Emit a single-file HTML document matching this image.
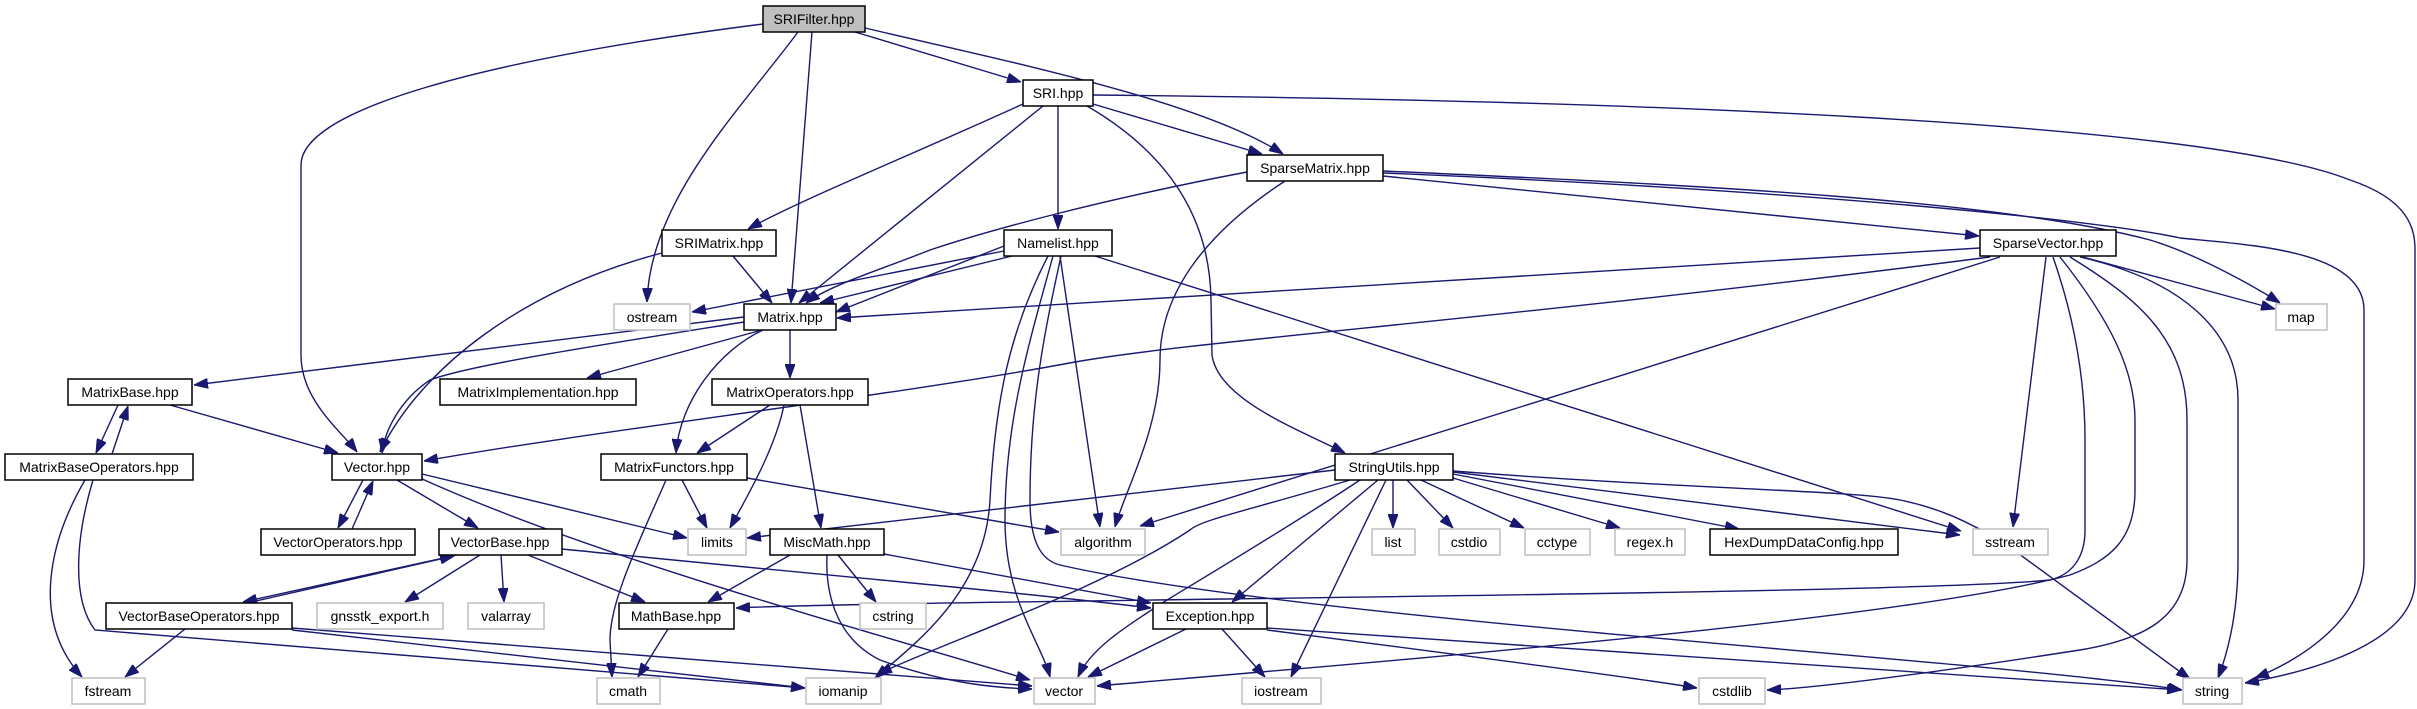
<!DOCTYPE html>
<html><head><meta charset="utf-8"><style>
html,body{margin:0;padding:0;background:#fff;}
svg{display:block;}
text{font-family:"Liberation Sans","DejaVu Sans",sans-serif;font-size:14px;fill:#000;text-anchor:middle;}
.e{fill:none;stroke:#191970;stroke-width:1.4;marker-end:url(#a);}
.n{fill:#fff;stroke:#000;stroke-width:1.5;}
.g{fill:#fff;stroke:#bfbfbf;stroke-width:1.5;}
</style></head><body>
<svg width="2417" height="709" viewBox="0 0 2417 709" xmlns="http://www.w3.org/2000/svg">
<defs><marker id="a" markerWidth="14" markerHeight="10" refX="14" refY="5" orient="auto" markerUnits="userSpaceOnUse"><path d="M0,0 L14,5 L0,10 z" fill="#191970" stroke="#191970"/></marker></defs>
<g>
<path class="e" d="M763,24 C480,60 301,110 301,165 L301,355 C301,400 340,430 357,452"/>
<path class="e" d="M798,32 C740,110 650,200 647,302"/>
<path class="e" d="M812,32 L791,303"/>
<path class="e" d="M855,32 L1021,82"/>
<path class="e" d="M865,28 C1000,60 1200,100 1283,154"/>
<path class="e" d="M1023,104 C900,160 800,200 748,229"/>
<path class="e" d="M1043,106 L799,303"/>
<path class="e" d="M1058,106 L1058,229"/>
<path class="e" d="M1087,106 C1180,160 1210,230 1211,300 L1212,355 C1218,400 1300,430 1345,453"/>
<path class="e" d="M1093,104 L1262,154"/>
<path class="e" d="M1093,95 C1600,100 2200,120 2350,180 C2410,200 2415,230 2415,250 L2415,580 C2415,640 2320,670 2245,683"/>
<path class="e" d="M1247,172 C1100,200 990,230 930,250 C880,270 830,285 806,303"/>
<path class="e" d="M1285,181 C1210,230 1160,290 1160,360 C1160,430 1125,490 1115,527"/>
<path class="e" d="M1383,176 L1979,236"/>
<path class="e" d="M1383,171 C1700,185 2000,200 2150,240 C2200,255 2260,290 2280,303"/>
<path class="e" d="M1383,173 C1800,190 2100,220 2180,238 C2250,245 2364,250 2364,310 L2364,560 C2364,620 2300,660 2255,678"/>
<path class="e" d="M662,253 C520,290 420,370 380,452"/>
<path class="e" d="M733,256 L772,303"/>
<path class="e" d="M1004,251 L692,312"/>
<path class="e" d="M1012,256 L820,303"/>
<path class="e" d="M1004,246 L836,312"/>
<path class="e" d="M1060,256 L1100,527"/>
<path class="e" d="M1048,256 C1010,330 995,400 990,500 C985,590 920,640 875,678"/>
<path class="e" d="M1053,256 C1030,340 1005,420 1005,520 C1005,600 1040,640 1050,677"/>
<path class="e" d="M1061,256 C1045,330 1030,400 1030,500 C1030,540 1040,560 1060,565 C1300,620 2000,660 2182,690"/>
<path class="e" d="M1095,256 L1961,531"/>
<path class="e" d="M1980,248 L837,318"/>
<path class="e" d="M1990,257 C1500,320 1200,340 1075,362 C900,395 600,430 424,461"/>
<path class="e" d="M2000,257 L1140,526"/>
<path class="e" d="M2046,257 L2013,527"/>
<path class="e" d="M2053,257 C2075,320 2085,380 2085,440 L2085,530 C2085,560 2070,575 2050,580 C1900,595 900,600 736,608"/>
<path class="e" d="M2060,257 C2110,320 2135,370 2135,420 L2135,490 C2135,540 2110,560 2070,575 C1900,620 1400,660 1097,686"/>
<path class="e" d="M2070,257 C2140,300 2187,340 2187,420 L2187,560 C2187,620 2140,640 2080,650 C1950,670 1820,688 1767,690"/>
<path class="e" d="M2080,257 C2180,280 2238,330 2238,400 L2238,560 C2238,620 2225,660 2218,678"/>
<path class="e" d="M2083,257 L2275,309"/>
<path class="e" d="M744,317 L194,385"/>
<path class="e" d="M744,322 C600,345 470,365 430,380 C400,400 385,430 382,453"/>
<path class="e" d="M762,330 L587,378"/>
<path class="e" d="M763,330 C720,350 680,400 676,453"/>
<path class="e" d="M790,330 L790,378"/>
<path class="e" d="M118,405 L96,453"/>
<path class="e" d="M112,454 L128,406"/>
<path class="e" d="M170,405 L338,453"/>
<path class="e" d="M85,480 C50,540 30,620 82,677"/>
<path class="e" d="M93,480 C75,540 72,600 95,630 L805,688"/>
<path class="e" d="M363,480 L338,528"/>
<path class="e" d="M352,529 L373,481"/>
<path class="e" d="M397,480 L478,528"/>
<path class="e" d="M422,474 L687,538"/>
<path class="e" d="M420,478 C600,560 900,640 1030,680"/>
<path class="e" d="M770,405 L697,453"/>
<path class="e" d="M784,405 C775,450 745,500 730,528"/>
<path class="e" d="M800,405 L821,528"/>
<path class="e" d="M682,480 L707,528"/>
<path class="e" d="M666,480 C640,540 610,600 610,640 L612,677"/>
<path class="e" d="M747,478 L1059,532"/>
<path class="e" d="M1335,470 L747,538"/>
<path class="e" d="M1350,480 C1250,510 1200,520 1190,530 C1100,590 950,640 878,674"/>
<path class="e" d="M1360,480 C1300,520 1200,580 1167,600 C1120,630 1090,650 1078,677"/>
<path class="e" d="M1378,480 L1232,602"/>
<path class="e" d="M1386,480 L1291,677"/>
<path class="e" d="M1393,480 L1393,528"/>
<path class="e" d="M1407,480 L1453,528"/>
<path class="e" d="M1421,480 L1524,528"/>
<path class="e" d="M1453,478 L1620,528"/>
<path class="e" d="M1453,474 L1739,529"/>
<path class="e" d="M1453,472 L1960,535"/>
<path class="e" d="M1453,471 C1700,490 1850,490 1900,500 C1950,510 1980,530 2000,540 L2190,679"/>
<path class="e" d="M457,555 L243,602"/>
<path class="e" d="M247,603 L454,556"/>
<path class="e" d="M480,555 L405,602"/>
<path class="e" d="M501,555 L504,602"/>
<path class="e" d="M528,555 L645,602"/>
<path class="e" d="M562,549 C800,573 1000,590 1151,608"/>
<path class="e" d="M185,629 L125,677"/>
<path class="e" d="M292,630 L805,688"/>
<path class="e" d="M292,628 C600,650 900,675 1032,686"/>
<path class="e" d="M790,555 L708,602"/>
<path class="e" d="M838,555 L876,602"/>
<path class="e" d="M827,555 C825,600 840,640 880,660 C950,685 1000,688 1032,689"/>
<path class="e" d="M884,554 L1151,603"/>
<path class="e" d="M668,629 L638,677"/>
<path class="e" d="M1186,629 L1088,677"/>
<path class="e" d="M1222,629 L1265,677"/>
<path class="e" d="M1267,628 L2181,690"/>
<path class="e" d="M1267,630 C1500,660 1650,680 1697,688"/>
</g>
<g>
<rect x="763" y="6" width="102" height="26" fill="#bfbfbf" stroke="#000" stroke-width="1.5"/><text x="814" y="24">SRIFilter.hpp</text>
<rect class="n" x="1023" y="80" width="70" height="26"/><text x="1058" y="98">SRI.hpp</text>
<rect class="n" x="1247" y="155" width="136" height="26"/><text x="1315" y="173">SparseMatrix.hpp</text>
<rect class="n" x="662" y="230" width="114" height="26"/><text x="719" y="248">SRIMatrix.hpp</text>
<rect class="n" x="1004" y="230" width="108" height="26"/><text x="1058" y="248">Namelist.hpp</text>
<rect class="n" x="1980" y="230" width="136" height="26"/><text x="2048" y="248">SparseVector.hpp</text>
<rect class="g" x="614" y="304" width="76" height="26"/><text x="652" y="322">ostream</text>
<rect class="n" x="744" y="304" width="92" height="26"/><text x="790" y="322">Matrix.hpp</text>
<rect class="g" x="2276" y="304" width="51" height="26"/><text x="2301" y="322">map</text>
<rect class="n" x="68" y="379" width="124" height="26"/><text x="130" y="397">MatrixBase.hpp</text>
<rect class="n" x="440" y="379" width="196" height="26"/><text x="538" y="397">MatrixImplementation.hpp</text>
<rect class="n" x="712" y="379" width="156" height="26"/><text x="790" y="397">MatrixOperators.hpp</text>
<rect class="n" x="5" y="454" width="188" height="26"/><text x="99" y="472">MatrixBaseOperators.hpp</text>
<rect class="n" x="332" y="454" width="90" height="26"/><text x="377" y="472">Vector.hpp</text>
<rect class="n" x="601" y="454" width="146" height="26"/><text x="674" y="472">MatrixFunctors.hpp</text>
<rect class="n" x="1335" y="454" width="118" height="26"/><text x="1394" y="472">StringUtils.hpp</text>
<rect class="n" x="261" y="529" width="154" height="26"/><text x="338" y="547">VectorOperators.hpp</text>
<rect class="n" x="439" y="529" width="123" height="26"/><text x="500" y="547">VectorBase.hpp</text>
<rect class="g" x="688" y="529" width="58" height="26"/><text x="717" y="547">limits</text>
<rect class="n" x="770" y="529" width="114" height="26"/><text x="827" y="547">MiscMath.hpp</text>
<rect class="g" x="1061" y="529" width="84" height="26"/><text x="1103" y="547">algorithm</text>
<rect class="g" x="1372" y="529" width="43" height="26"/><text x="1393" y="547">list</text>
<rect class="g" x="1439" y="529" width="61" height="26"/><text x="1469" y="547">cstdio</text>
<rect class="g" x="1525" y="529" width="65" height="26"/><text x="1557" y="547">cctype</text>
<rect class="g" x="1615" y="529" width="70" height="26"/><text x="1650" y="547">regex.h</text>
<rect class="n" x="1710" y="529" width="188" height="26"/><text x="1804" y="547">HexDumpDataConfig.hpp</text>
<rect class="g" x="1973" y="529" width="75" height="26"/><text x="2010" y="547">sstream</text>
<rect class="n" x="106" y="603" width="186" height="26"/><text x="199" y="621">VectorBaseOperators.hpp</text>
<rect class="g" x="317" y="603" width="126" height="26"/><text x="380" y="621">gnsstk_export.h</text>
<rect class="g" x="468" y="603" width="76" height="26"/><text x="506" y="621">valarray</text>
<rect class="n" x="619" y="603" width="115" height="26"/><text x="676" y="621">MathBase.hpp</text>
<rect class="g" x="860" y="603" width="66" height="26"/><text x="893" y="621">cstring</text>
<rect class="n" x="1153" y="603" width="114" height="26"/><text x="1210" y="621">Exception.hpp</text>
<rect class="g" x="72" y="678" width="73" height="26"/><text x="108" y="696">fstream</text>
<rect class="g" x="597" y="678" width="63" height="26"/><text x="628" y="696">cmath</text>
<rect class="g" x="806" y="678" width="75" height="26"/><text x="843" y="696">iomanip</text>
<rect class="g" x="1034" y="678" width="61" height="26"/><text x="1064" y="696">vector</text>
<rect class="g" x="1242" y="678" width="79" height="26"/><text x="1281" y="696">iostream</text>
<rect class="g" x="1699" y="678" width="66" height="26"/><text x="1732" y="696">cstdlib</text>
<rect class="g" x="2183" y="678" width="59" height="26"/><text x="2212" y="696">string</text>
</g>
</svg>
</body></html>
